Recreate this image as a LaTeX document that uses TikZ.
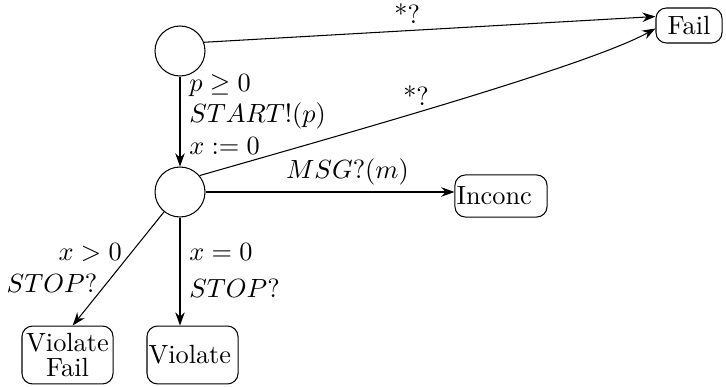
\documentclass[tikz,border=0pt]{standalone}
\usepackage{tikz}
\usetikzlibrary{arrows.meta}

\begin{document}
\begin{tikzpicture}[
  x=0.38pt, y=-0.38pt,
  state/.style={draw, circle, minimum size=19pt, inner sep=0pt},
  verdict/.style={draw, rounded corners=4pt, align=left, inner xsep=0.6pt, inner ysep=0pt},
  arr/.style={-{Stealth[length=5pt, width=3.6pt]}},
  lab/.style={inner sep=2.5pt},
]
  \useasboundingbox (0,0) rectangle (726,387);

  % states
  \node[state] (s0) at (180,51) {};
  \node[state] (s1) at (180,192) {};

  % verdicts
  \node[verdict, text width=23.9pt, minimum height=13.3pt, align=center] (fail) at (689,25.5) {Fail};
  \node[verdict, text width=33.8pt, minimum height=16pt] (inconc) at (501,196) {Inconc};
  \node[verdict, text width=33.4pt, minimum height=22pt, align=center] (vfail) at (67.5,355) {Violate\\[-2.5pt]Fail};
  \node[verdict, text width=33.4pt, minimum height=22pt] (viol) at (192.5,355) {Violate};

  % transitions
  \draw[arr] (s0.20) -- node[lab, above, pos=0.45] {*?} (fail.165);
  \draw[arr] (s1.40) .. controls (348,133) and (590,65) .. node[lab, above, pos=0.42] {*?} (fail.185);
  \draw[arr] (s0) -- node[right, pos=0.42, align=left] {$p\geq 0$\\$START!(p)$\\$x:=0$} (s1);
  \draw[arr] (s1) -- node[lab, above, pos=0.57] {$MSG?(m)$} (s1 -| inconc.west);
  \draw[arr] (s1) -- node[left, pos=0.36] {$x>0$} node[left, pos=0.63] {$STOP?$} (vfail.80);
  \draw[arr] (s1) -- node[right, pos=0.49, align=left] {$x=0$\\[2pt]$STOP?$} (s1 |- viol.north);
\end{tikzpicture}
\end{document}
